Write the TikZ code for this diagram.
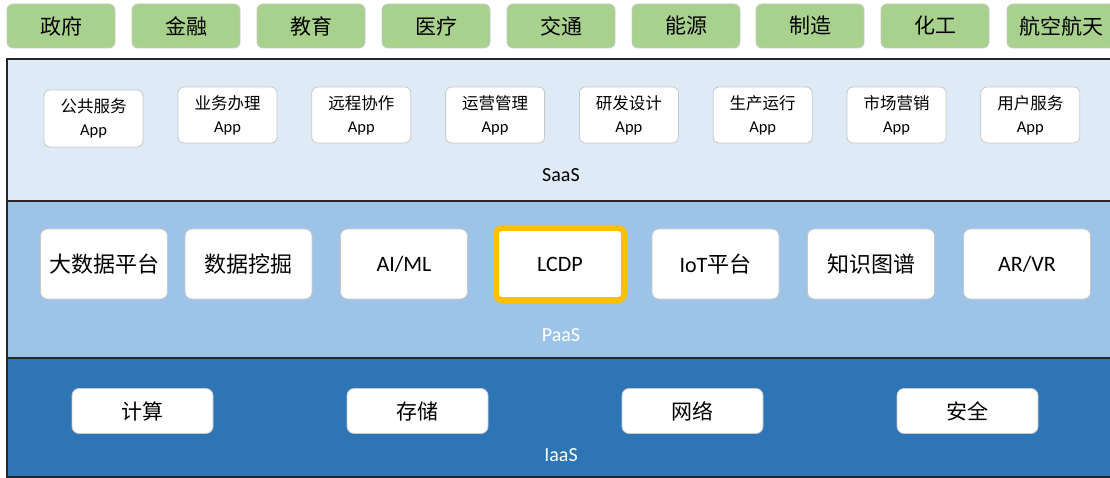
\documentclass[tikz,border=0pt]{standalone}
\usepackage{fontspec}
\setmainfont{Carlito}
\newfontfamily\cjk{Noto Sans CJK SC}
\definecolor{sectorgreen}{HTML}{A9D18E}
\definecolor{saasfill}{HTML}{DEEBF7}
\definecolor{paasfill}{HTML}{9DC3E6}
\definecolor{iaasfill}{HTML}{2E75B6}
\definecolor{hilite}{HTML}{FFC000}
\definecolor{boxline}{HTML}{C8C8C8}
\definecolor{bandline}{HTML}{262626}
\tikzset{
  sector/.style={draw=boxline, line width=0.8pt, fill=sectorgreen, rounded corners=6pt,
    minimum width=108pt, minimum height=44pt, inner sep=0pt,
    font=\cjk\fontsize{21}{24}\selectfont},
  band/.style={draw=bandline, line width=1.2pt},
  appbox/.style={draw=boxline, line width=0.8pt, fill=white, rounded corners=6pt,
    minimum width=99pt, minimum height=56pt, inner sep=0pt, align=center,
    font=\fontsize{16.5}{23}\selectfont},
  paasbox/.style={draw=boxline, line width=0.8pt, fill=white, rounded corners=7pt,
    minimum width=127pt, minimum height=70pt, inner sep=0pt,
    font=\fontsize{22}{26}\selectfont},
  iaasbox/.style={draw=boxline, line width=0.8pt, fill=white, rounded corners=7pt,
    minimum width=141pt, minimum height=45pt, inner sep=0pt,
    font=\cjk\fontsize{21}{24}\selectfont},
  layerlabel/.style={inner sep=0pt, font=\fontsize{20}{24}\selectfont}
}
\begin{document}
\begin{tikzpicture}[x=1pt,y=-1pt]
\useasboundingbox (0,0) rectangle (1110,478);
\clip (0,0) rectangle (1110,478);
% sector boxes
\node[sector] (s1) at (61,26) {政府};
\node[sector] (s2) at (186,26) {金融};
\node[sector] (s3) at (311,26) {教育};
\node[sector] (s4) at (436,26) {医疗};
\node[sector] (s5) at (561,26) {交通};
\node[sector] (s6) at (686,26) {能源};
\node[sector] (s7) at (810,26) {制造};
\node[sector] (s8) at (935,26) {化工};
\node[sector] (s9) at (1061,26) {航空航天};
% bands
\draw[band, fill=saasfill] (7,59) rectangle (1115,201);
\draw[band, fill=paasfill] (7,201) rectangle (1115,358);
\draw[band, fill=iaasfill] (7,358) rectangle (1115,477);
% SaaS apps
\node[appbox, minimum height=57pt] (a1) at (93.5,118.5) {{\cjk 公共服务}\\App};
\node[appbox] (a2) at (227.5,115) {{\cjk 业务办理}\\App};
\node[appbox] (a3) at (361.3,115) {{\cjk 远程协作}\\App};
\node[appbox] (a4) at (495.1,115) {{\cjk 运营管理}\\App};
\node[appbox] (a5) at (628.9,115) {{\cjk 研发设计}\\App};
\node[appbox] (a6) at (762.7,115) {{\cjk 生产运行}\\App};
\node[appbox] (a7) at (896.5,115) {{\cjk 市场营销}\\App};
\node[appbox] (a8) at (1030.3,115) {{\cjk 用户服务}\\App};
\node[layerlabel] (saas) at (561,175) {SaaS};
% PaaS
\node[paasbox] (p1) at (104,264) {\cjk 大数据平台};
\node[paasbox] (p2) at (248.5,264) {\cjk 数据挖掘};
\node[paasbox] (p3) at (404,264) {AI/ML};
\node[paasbox, draw=hilite, line width=6pt, rounded corners=6pt, minimum width=128pt, minimum height=72pt] (p4) at (560,264) {LCDP};
\node[paasbox] (p5) at (715.5,264) {IoT{\cjk 平台}};
\node[paasbox] (p6) at (871,264) {\cjk 知识图谱};
\node[paasbox] (p7) at (1027,264) {AR/VR};
\node[layerlabel, text=white] (paas) at (561,335) {PaaS};
% IaaS
\node[iaasbox] (i1) at (142.5,411) {计算};
\node[iaasbox] (i2) at (417.5,411) {存储};
\node[iaasbox] (i3) at (692.5,411) {网络};
\node[iaasbox] (i4) at (967.5,411) {安全};
\node[layerlabel, text=white] (iaas) at (561,455) {IaaS};
\end{tikzpicture}
\end{document}
